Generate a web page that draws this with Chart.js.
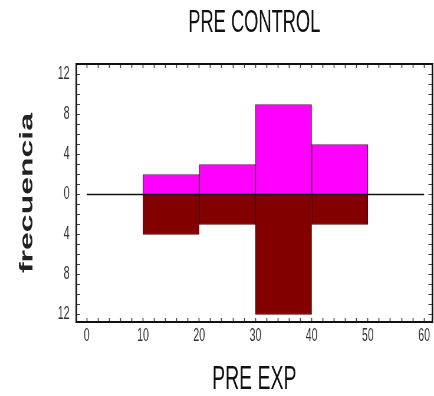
<!DOCTYPE html>
<html>
<head>
<meta charset="utf-8">
<script src="https://cdn.jsdelivr.net/npm/chart.js@4.4.1/dist/chart.umd.min.js"></script>
<style>
  html, body { margin: 0; padding: 0; background: #fff; overflow: hidden; }
  #wrap { width: 434px; height: 396px; overflow: hidden; }
  #pieChart { transform: scaleX(0.58967); transform-origin: 0 0; }
</style>
</head>
<body>
<div id="wrap"><canvas id="pieChart" width="736" height="396"></canvas></div>
<script>
// datos del histograma (clases de 10 en 10)
const binStarts = [10, 20, 30, 40];
const binWidth = 10;
const preControl = [2, 3, 9, 5];
const preExp = [4, 3, 12, 3];

// etiquetas de los ejes
const xTickValues = [0, 10, 20, 30, 40, 50, 60];
const yTickValues = [-12, -8, -4, 0, 4, 8, 12];

document.addEventListener('DOMContentLoaded', function() {
    const SQ = 434 / 736; // el dibujo original esta comprimido en horizontal
    const vLine = w => w / SQ;

    const xMinor = [];
    for (let v = xTickValues[0]; v <= xTickValues[xTickValues.length - 1]; v += 2) xMinor.push(v);
    const yMinor = [];
    for (let v = yTickValues[0]; v <= yTickValues[yTickValues.length - 1]; v += 1) yMinor.push(v);

    const setTicks = list => scale => { scale.ticks = list.map(v => ({ value: v })); };
    const fixSize = (prop, size) => scale => {
        scale[prop] = size;
        scale.paddingLeft = 0; scale.paddingRight = 0;
        scale.paddingTop = 0; scale.paddingBottom = 0;
    };

    const tickFont = { family: 'Liberation Sans', size: 18 };
    const tickColor = '#333';

    const ctx = document.getElementById('pieChart').getContext('2d');

    const data = {
        datasets: [{
            type: 'line',
            label: 'cero',
            data: [{ x: xTickValues[0], y: 0 }, { x: xTickValues[xTickValues.length - 1], y: 0 }],
            borderColor: '#111',
            borderWidth: 1.5,
            pointRadius: 0,
            order: 0
        }, {
            label: 'PRE CONTROL',
            data: binStarts.map((b, i) => ({ x: b + binWidth / 2, y: preControl[i] })),
            backgroundColor: '#ff00ff',
            borderColor: '#6e1060',
            borderWidth: { top: 1, bottom: 1, left: vLine(0.8), right: vLine(0.8) },
            stack: 'h',
            order: 1
        }, {
            label: 'PRE EXP',
            data: binStarts.map((b, i) => ({ x: b + binWidth / 2, y: -preExp[i] })),
            backgroundColor: '#820000',
            borderColor: '#4a0008',
            borderWidth: { top: 1, bottom: 1, left: vLine(0.8), right: vLine(0.8) },
            stack: 'h',
            order: 1
        }]
    };

    const options = {
        responsive: false,
        animation: false,
        devicePixelRatio: 1,
        layout: { padding: 0 },
        datasets: {
            bar: { barThickness: 'flex', barPercentage: 1, categoryPercentage: 1 }
        },
        plugins: {
            legend: { display: false },
            tooltip: { enabled: false },
            title: { display: false }
        },
        scales: {
            x: {
                type: 'linear', position: 'bottom', offset: false,
                min: -1.9, max: 61.5,
                afterBuildTicks: setTicks(xMinor),
                afterFit: fixSize('height', 74),
                grid: { drawOnChartArea: false, offset: false, tickLength: -4, tickWidth: vLine(1), tickColor: '#444' },
                border: { display: true, color: '#111', width: 2 },
                ticks: {
                    autoSkip: false, maxRotation: 0, minRotation: 0, padding: 7.6,
                    font: tickFont, color: tickColor,
                    callback: v => xTickValues.includes(v) ? String(v) : ''
                },
                title: {
                    display: true, text: 'PRE EXP', color: '#111',
                    font: { family: 'Liberation Sans', size: 33, lineHeight: 1 },
                    padding: { top: 0, bottom: 0 }
                }
            },
            x2: {
                type: 'linear', position: 'top', offset: false,
                min: -1.9, max: 61.5,
                afterBuildTicks: setTicks(xMinor),
                afterFit: fixSize('height', 64),
                grid: { drawOnChartArea: false, offset: false, tickLength: -4, tickWidth: vLine(1), tickColor: '#444' },
                border: { display: true, color: '#111', width: 2 },
                ticks: { display: false },
                title: {
                    display: true, text: 'PRE CONTROL', color: '#111',
                    font: { family: 'Liberation Sans', size: 31, lineHeight: 1.2 },
                    padding: { top: 4.4, bottom: 0 }
                }
            },
            y: {
                type: 'linear', position: 'left',
                min: -12.75, max: 13.05,
                afterBuildTicks: setTicks(yMinor),
                afterFit: fixSize('width', 129),
                grid: { drawOnChartArea: false, tickLength: -7, tickWidth: 1, tickColor: '#444' },
                border: { display: true, color: '#111', width: vLine(1.6) },
                ticks: {
                    autoSkip: false, padding: 18,
                    font: tickFont, color: tickColor,
                    callback: v => yTickValues.includes(v) ? String(Math.abs(v)) : ''
                },
                title: {
                    display: true, text: 'frecuencia', color: '#222',
                    font: { family: 'Liberation Sans', size: 32, weight: 'bold', lineHeight: 1.2 },
                    padding: { top: 27, bottom: 0 }
                }
            },
            y2: {
                type: 'linear', position: 'right',
                min: -12.75, max: 13.05,
                afterBuildTicks: setTicks(yMinor),
                afterFit: fixSize('width', 2.5),
                grid: { drawOnChartArea: false, tickLength: -7, tickWidth: 1, tickColor: '#444' },
                border: { display: true, color: '#111', width: vLine(1.6) },
                ticks: { display: false }
            }
        }
    };

    new Chart(ctx, {
        type: 'bar',
        data: data,
        options: options
    });
});
</script>
</body>
</html>
